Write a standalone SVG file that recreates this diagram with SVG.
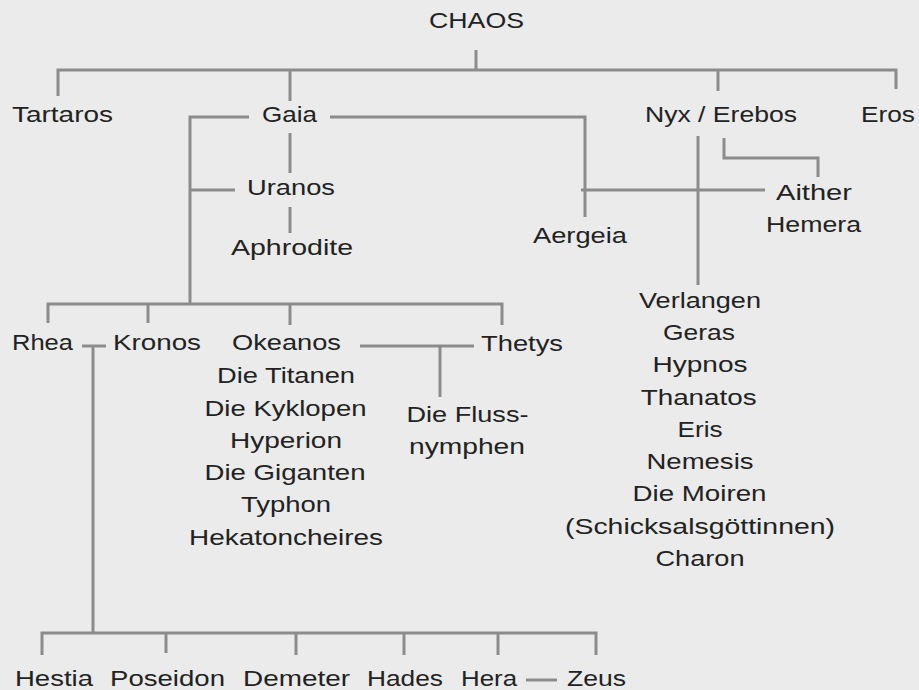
<svg xmlns="http://www.w3.org/2000/svg" width="919" height="690" viewBox="0 0 919 690">
<style>
.t{font-family:"Liberation Sans",Arial,sans-serif;font-size:22px;fill:#222;text-anchor:middle}
.c{fill:none;stroke:#8c8c8c;stroke-width:3}
</style>
<rect width="919" height="690" fill="#ebebeb"/>
<g id="connectors" class="c">
<path d="M476,50 V70"/>
<path d="M58,96 V70 H896 V89"/>
<path d="M290,70 V101"/>
<path d="M718,70 V91"/>
<path d="M249,117 H190 V304"/>
<path d="M330,117 H585 V217"/>
<path d="M290,133 V173"/>
<path d="M235,190 H190"/>
<path d="M290,207 V233"/>
<path d="M581,190 H765"/>
<path d="M698,136 V285"/>
<path d="M724,138 V158 H818 V177"/>
<path d="M48,323 V304 H502 V325"/>
<path d="M148,304 V323"/>
<path d="M290,304 V325"/>
<path d="M82,346 H106"/>
<path d="M93,346 V633"/>
<path d="M360,346 H474"/>
<path d="M440,346 V397"/>
<path d="M42,655 V633 H596 V655"/>
<path d="M166,633 V653"/>
<path d="M296,633 V655"/>
<path d="M404,633 V655"/>
<path d="M498,633 V655"/>
<path d="M526,680 H557"/>
</g>
<g id="chaos"><text class="t" x="476.5" y="28" textLength="95" lengthAdjust="spacingAndGlyphs">CHAOS</text></g>
<g id="tartaros"><text class="t" x="62.5" y="122" textLength="101" lengthAdjust="spacingAndGlyphs">Tartaros</text></g>
<g id="gaia"><text class="t" x="289.5" y="122" textLength="55" lengthAdjust="spacingAndGlyphs">Gaia</text></g>
<g id="nyx-erebos"><text class="t" x="721" y="122" textLength="152" lengthAdjust="spacingAndGlyphs">Nyx / Erebos</text></g>
<g id="eros"><text class="t" x="888" y="122" textLength="54" lengthAdjust="spacingAndGlyphs">Eros</text></g>
<g id="uranos"><text class="t" x="291" y="195" textLength="88" lengthAdjust="spacingAndGlyphs">Uranos</text></g>
<g id="aphrodite"><text class="t" x="292" y="255" textLength="122" lengthAdjust="spacingAndGlyphs">Aphrodite</text></g>
<g id="aither-hemera">
<text class="t" x="814" y="200" textLength="76" lengthAdjust="spacingAndGlyphs">Aither</text>
<text class="t" x="813.5" y="232" textLength="95" lengthAdjust="spacingAndGlyphs">Hemera</text>
</g>
<g id="aergeia"><text class="t" x="580" y="243" textLength="94" lengthAdjust="spacingAndGlyphs">Aergeia</text></g>
<g id="rhea"><text class="t" x="42.5" y="350" textLength="61" lengthAdjust="spacingAndGlyphs">Rhea</text></g>
<g id="kronos"><text class="t" x="157" y="350" textLength="88" lengthAdjust="spacingAndGlyphs">Kronos</text></g>
<g id="okeanos-group">
<text class="t" x="286.5" y="350" textLength="109" lengthAdjust="spacingAndGlyphs">Okeanos</text>
<text class="t" x="286" y="383" textLength="138" lengthAdjust="spacingAndGlyphs">Die Titanen</text>
<text class="t" x="285.5" y="416" textLength="162" lengthAdjust="spacingAndGlyphs">Die Kyklopen</text>
<text class="t" x="286" y="448" textLength="112" lengthAdjust="spacingAndGlyphs">Hyperion</text>
<text class="t" x="285" y="480" textLength="161" lengthAdjust="spacingAndGlyphs">Die Giganten</text>
<text class="t" x="286" y="512" textLength="90" lengthAdjust="spacingAndGlyphs">Typhon</text>
<text class="t" x="286" y="545" textLength="194" lengthAdjust="spacingAndGlyphs">Hekatoncheires</text>
</g>
<g id="thetys"><text class="t" x="522" y="351" textLength="82" lengthAdjust="spacingAndGlyphs">Thetys</text></g>
<g id="flussnymphen">
<text class="t" x="467.5" y="422" textLength="122" lengthAdjust="spacingAndGlyphs">Die Fluss-</text>
<text class="t" x="467" y="454" textLength="116" lengthAdjust="spacingAndGlyphs">nymphen</text>
</g>
<g id="nyx-children">
<text class="t" x="700" y="308" textLength="122" lengthAdjust="spacingAndGlyphs">Verlangen</text>
<text class="t" x="699" y="340" textLength="72" lengthAdjust="spacingAndGlyphs">Geras</text>
<text class="t" x="700" y="372" textLength="95" lengthAdjust="spacingAndGlyphs">Hypnos</text>
<text class="t" x="698.7" y="405" textLength="116" lengthAdjust="spacingAndGlyphs">Thanatos</text>
<text class="t" x="700" y="437" textLength="45" lengthAdjust="spacingAndGlyphs">Eris</text>
<text class="t" x="700" y="469" textLength="107" lengthAdjust="spacingAndGlyphs">Nemesis</text>
<text class="t" x="699.5" y="501" textLength="134" lengthAdjust="spacingAndGlyphs">Die Moiren</text>
<text class="t" x="700" y="534" textLength="270" lengthAdjust="spacingAndGlyphs">(Schicksalsgöttinnen)</text>
<text class="t" x="700" y="566" textLength="89" lengthAdjust="spacingAndGlyphs">Charon</text>
</g>
<g id="hestia"><text class="t" x="54" y="686" textLength="78" lengthAdjust="spacingAndGlyphs">Hestia</text></g>
<g id="poseidon"><text class="t" x="167.5" y="686" textLength="115" lengthAdjust="spacingAndGlyphs">Poseidon</text></g>
<g id="demeter"><text class="t" x="296.5" y="686" textLength="107" lengthAdjust="spacingAndGlyphs">Demeter</text></g>
<g id="hades"><text class="t" x="405" y="686" textLength="76" lengthAdjust="spacingAndGlyphs">Hades</text></g>
<g id="hera"><text class="t" x="489" y="686" textLength="56" lengthAdjust="spacingAndGlyphs">Hera</text></g>
<g id="zeus"><text class="t" x="596.5" y="686" textLength="59" lengthAdjust="spacingAndGlyphs">Zeus</text></g>
</svg>
